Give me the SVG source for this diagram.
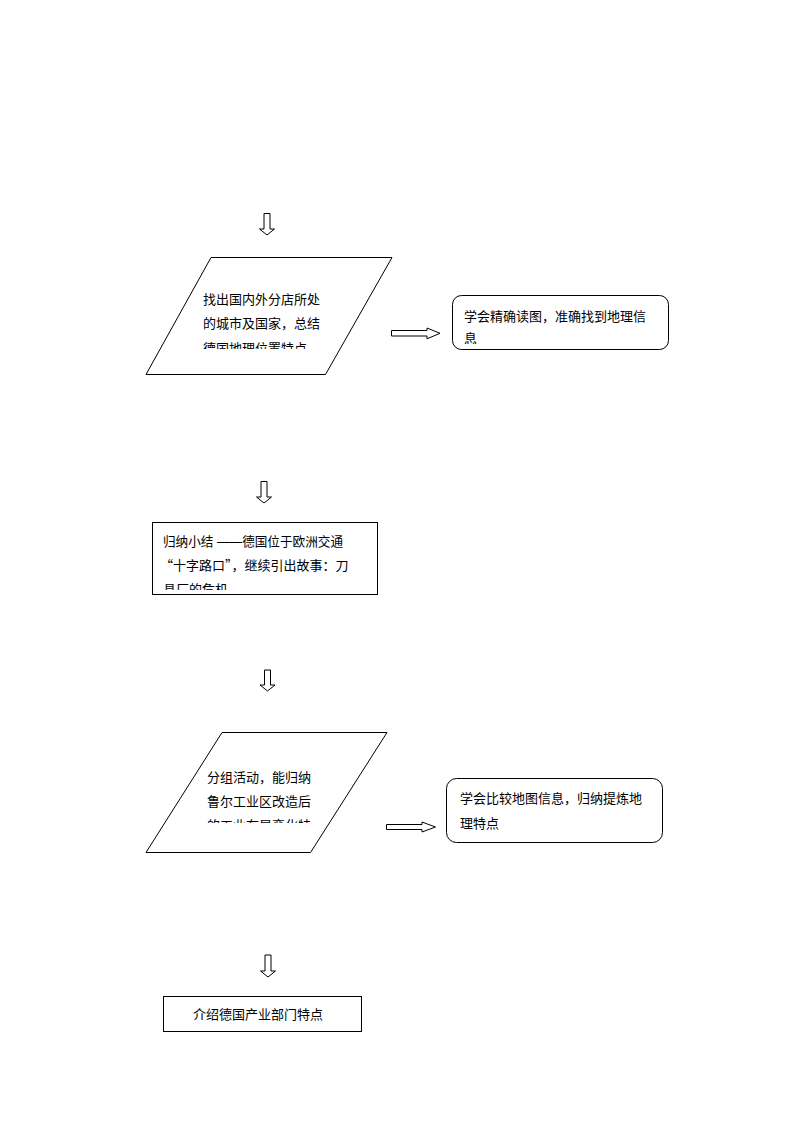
<svg xmlns="http://www.w3.org/2000/svg" width="794" height="1123" viewBox="0 0 794 1123">
<style>
.s{fill:#fff;stroke:#000;stroke-width:1}
.t{font-family:"Liberation Sans","Noto Sans CJK SC",sans-serif;font-size:13px;fill:#000}
.q{font-family:"Noto Sans CJK SC",sans-serif}
.a{fill:#fff;stroke:#000;stroke-width:1}
</style>
<defs>
<clipPath id="c1"><rect x="190" y="285" width="150" height="64"/></clipPath>
<clipPath id="c2"><rect x="455" y="300" width="210" height="44"/></clipPath>
<clipPath id="c3"><rect x="155" y="528" width="220" height="62"/></clipPath>
<clipPath id="c4"><rect x="195" y="760" width="150" height="63"/></clipPath>
</defs>
<rect width="794" height="1123" fill="#fff"/>
<g id="connectors">
<polygon class="a" points="264,213.5 270,213.5 270,229 274.5,229 267,235 259.5,229 264,229"/>
<polygon class="a" points="261,481.5 267,481.5 267,497 271.5,497 264,503 256.5,497 261,497"/>
<polygon class="a" points="264.5,670 270.5,670 270.5,685 275,685 267.5,691 260,685 264.5,685"/>
<polygon class="a" points="265,955 271,955 271,971 275.5,971 268,977 260.5,971 265,971"/>
<polygon class="a" points="391.5,330.5 427,330.5 427,328 440,333.3 427,338.8 427,336 391.5,336"/>
<polygon class="a" points="386.5,824.5 422,824.5 422,822 435.5,827 422,832 422,829.5 386.5,829.5"/>
</g>
<g id="node1">
<polygon class="s" points="211,257.5 392,257.5 325.5,374.5 146,374.5"/>
<g clip-path="url(#c1)">
<text class="t" x="203" y="304">找出国内外分店所处</text>
<text class="t" x="203" y="328">的城市及国家，总结</text>
<text class="t" x="203" y="352.5">德国地理位置特点</text>
</g>
</g>
<g id="node2">
<rect class="s" x="452.5" y="295.5" width="216" height="54" rx="9"/>
<g clip-path="url(#c2)">
<text class="t" x="464" y="321">学会精确读图，准确找到地理信</text>
<text class="t" x="464" y="343">息</text>
</g>
</g>
<g id="node3">
<rect class="s" x="152.5" y="522.5" width="225" height="72"/>
<g clip-path="url(#c3)">
<text class="t" x="163" y="546" textLength="180" lengthAdjust="spacingAndGlyphs">归纳小结 ——德国位于欧洲交通</text>
<text class="t q" x="160" y="570">“十字路口”，继续引出故事：刀</text>
<text class="t" x="163" y="594">具厂的危机</text>
</g>
</g>
<g id="node4">
<polygon class="s" points="222,732.5 387,732.5 310.5,852.5 146,852.5"/>
<g clip-path="url(#c4)">
<text class="t" x="207" y="782">分组活动，能归纳</text>
<text class="t" x="207" y="806">鲁尔工业区改造后</text>
<text class="t" x="207" y="830">的工业布局变化特</text>
</g>
</g>
<g id="node5">
<rect class="s" x="446.5" y="778.5" width="216" height="64" rx="10"/>
<text class="t" x="460" y="803">学会比较地图信息，归纳提炼地</text>
<text class="t" x="460" y="828">理特点</text>
</g>
<g id="node6">
<rect class="s" x="163.5" y="996.5" width="198" height="35"/>
<text class="t" x="258" y="1019" text-anchor="middle">介绍德国产业部门特点</text>
</g>
</svg>
